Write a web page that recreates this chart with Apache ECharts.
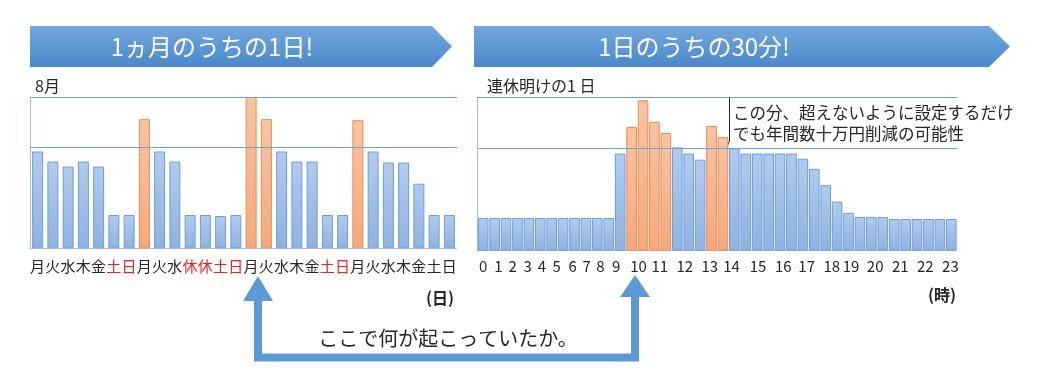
<!DOCTYPE html>
<html><head><meta charset="utf-8">
<script src="https://cdn.jsdelivr.net/npm/echarts@6/dist/echarts.min.js"></script>
<style>html,body{margin:0;padding:0;background:#fff;}#c{width:1038px;height:379px;}</style>
</head><body><div id="c"></div>
<script>
// ---- data ----
const dayLabels = ['月','火','水','木','金','土','日','月','火','水','休','休','土','日','月','火','水','木','金','土','日','月','火','水','木','金','土','日'];
const redDays = [5,6,10,11,12,13,19,20];
const dayValues = [96,86,81,86,81,33,33,128,96,86,33,33,32,33,150,128,96,86,86,33,33,127,96,85,85,64,33,33];
const dayPeaks = [7,14,15,21];

const slotValues = [32,32,32,32,32,32,32,32,32,32,32,32,95,121,147,126,115,101,95,89,122,111,100,95,95,95,95,95,90,80,64,48,37,33,33,33,31,31,31,31,31,31];
const slotPeaks = [13,14,15,16,20,21];

// hour tick labels and where each sits along the 42-slot axis (in slot units)
const hourLabels = ['0','1','2','3','4','5','6','7','8','9','10','11','12','13','14','15','16','17','18','19','20','21','22','23'];
const hourTicks = [0.50,1.84,3.07,4.39,5.65,6.94,8.34,9.57,10.77,12.15,14.11,15.96,18.15,20.35,22.25,24.58,26.78,28.83,31.03,32.72,34.83,37.03,39.22,41.42];

const refLines = [100,150];

const FONT = '"Noto Sans CJK JP", "Noto Sans", sans-serif';
const blueFill = {type:'linear',x:0,y:0,x2:0,y2:1,colorStops:[{offset:0,color:'#b0cbee'},{offset:1,color:'#8fb2e0'}]};
const orangeFill = {type:'linear',x:0,y:0,x2:0,y2:1,colorStops:[{offset:0,color:'#f8c4a4'},{offset:1,color:'#f4a97c'}]};
function barData(vals, peaks){
  return vals.map((v,i)=>({value:v,itemStyle: peaks.includes(i)
    ? {color:orangeFill,borderColor:'#ee8a4c',borderWidth:1}
    : {color:blueFill,borderColor:'#6c9ed8',borderWidth:1}}));
}
const mark = {silent:true,symbol:'none',label:{show:false},lineStyle:{type:'solid',color:'#6aa6d4',width:1},
  data: refLines.map(v=>({yAxis:v}))};
const bannerFill = {type:'linear',x:0,y:0,x2:0,y2:1,colorStops:[{offset:0,color:'#72a8de'},{offset:1,color:'#4b88ca'}]};

const chart = echarts.init(document.getElementById('c'), null, {renderer:'canvas'});
chart.setOption({
  backgroundColor:'#fff',
  animation:false,
  textStyle:{fontFamily:FONT},
  grid:[{left:30,top:97,width:427,height:151.3},{left:477.5,top:97.3,width:479.5,height:153.4}],
  xAxis:[
    {gridIndex:0,type:'category',data:dayLabels,axisTick:{show:false},
     axisLine:{lineStyle:{color:'#a9c6e8'}},
     axisLabel:{interval:0,margin:10,fontSize:15,fontFamily:FONT,color:'#262626',
       formatter:(v,i)=> redDays.includes(i)?'{r|'+v+'}':'{k|'+v+'}',
       rich:{r:{color:'#ff1a1a',fontSize:15,fontFamily:FONT},k:{color:'#262626',fontSize:15,fontFamily:FONT}}}},
    {gridIndex:1,type:'category',data:slotValues.map((v,i)=>String(i)),axisTick:{show:false},
     axisLine:{lineStyle:{color:'#a9c6e8'}},axisLabel:{show:false}},
    {gridIndex:1,type:'value',min:0,max:slotValues.length,position:'bottom',
     axisLine:{show:false},axisTick:{show:false},splitLine:{show:false},
     axisLabel:{customValues:hourTicks,margin:8,fontSize:15,fontFamily:FONT,color:'#262626',hideOverlap:false,
       showMinLabel:true,showMaxLabel:true,
       formatter:(v)=>{const k=hourTicks.findIndex(t=>Math.abs(t-v)<1e-6);return k>=0?hourLabels[k]:'';}}}
  ],
  yAxis:[
    {gridIndex:0,type:'value',min:0,max:150,axisLabel:{show:false},axisTick:{show:false},splitLine:{show:false},
     axisLine:{show:true,lineStyle:{color:'#9dc3e6'}}},
    {gridIndex:1,type:'value',min:0,max:150,axisLabel:{show:false},axisTick:{show:false},splitLine:{show:false},
     axisLine:{show:true,lineStyle:{color:'#9dc3e6'}}}
  ],
  series:[
    {type:'bar',xAxisIndex:0,yAxisIndex:0,barCategoryGap:'28%',data:barData(dayValues,dayPeaks),markLine:mark},
    {type:'bar',xAxisIndex:1,yAxisIndex:1,barCategoryGap:'7%',data:barData(slotValues,slotPeaks),markLine:mark}
  ],
  graphic:[
    {type:'polygon',shape:{points:[[30,26],[432,26],[452,46.5],[432,67],[30,67]]},style:{fill:bannerFill}},
    {type:'polygon',shape:{points:[[474,26],[989,26],[1010,46.5],[989,67],[474,67]]},style:{fill:bannerFill}},
    {type:'text',x:212,y:47,style:{text:'1ヵ月のうちの1日!',fill:'#fff',font:'24px '+FONT,align:'center',verticalAlign:'middle'}},
    {type:'text',x:694,y:47,style:{text:'1日のうちの30分!',fill:'#fff',font:'24px '+FONT,align:'center',verticalAlign:'middle'}},
    {type:'text',x:35,y:86,style:{text:'8月',fill:'#262626',font:'16px '+FONT,verticalAlign:'middle'}},
    {type:'text',x:487,y:86,style:{text:'連休明けの1 日',fill:'#262626',font:'16px '+FONT,verticalAlign:'middle'}},
    {type:'text',x:440,y:298,style:{text:'(日)',fill:'#262626',font:'bold 16px '+FONT,align:'center',verticalAlign:'middle'}},
    {type:'text',x:942,y:295,style:{text:'(時)',fill:'#262626',font:'bold 16px '+FONT,align:'center',verticalAlign:'middle'}},
    {type:'polyline',shape:{points:[[729.5,98],[729.5,141],[726,149]]},style:{stroke:'#222',lineWidth:1,fill:null}},
    {type:'text',x:733,y:113,style:{text:'この分、超えないように設定するだけ',fill:'#262626',font:'16.5px '+FONT,verticalAlign:'middle'}},
    {type:'text',x:733,y:134,style:{text:'でも年間数十万円削減の可能性',fill:'#262626',font:'16.5px '+FONT,verticalAlign:'middle'}},
    {type:'polyline',shape:{points:[[258,299],[258,357.5],[635,357.5],[635,295]]},style:{stroke:'#5b9bd5',lineWidth:8,fill:null,lineJoin:'miter'}},
    {type:'polygon',shape:{points:[[243,301],[258,276],[273,301]]},style:{fill:'#5b9bd5'}},
    {type:'polygon',shape:{points:[[620,297],[635,275],[650,297]]},style:{fill:'#5b9bd5'}},
    {type:'text',x:448,y:338,style:{text:'ここで何が起こっていたか。',fill:'#262626',font:'20px '+FONT,align:'center',verticalAlign:'middle'}}
  ]
});
</script></body></html>
